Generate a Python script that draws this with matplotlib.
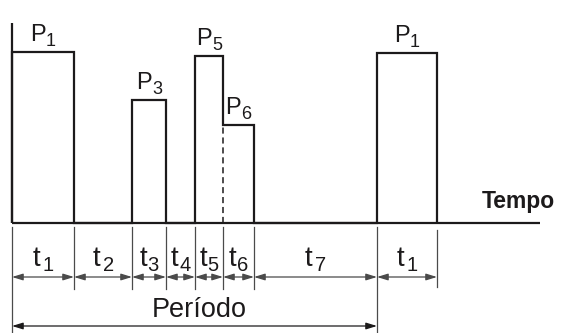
import numpy as np
import matplotlib
matplotlib.use('Agg')
import matplotlib.pyplot as plt

# ---- data (time in arbitrary units, power in arbitrary units) ----
durations = [62, 58, 34, 29, 28, 31, 123, 60]
t_labels = ['1', '2', '3', '4', '5', '6', '7', '1']
powers = [171, 0, 123, 0, 167, 98, 0, 170]
p_labels = ['1', '', '3', '', '5', '6', '', '1']
period_segments = 7
axis_label = 'Tempo'
period_label = 'Período'

plt.rcParams['font.family'] = ['Liberation Sans', 'DejaVu Sans']

edges = np.concatenate([[0], np.cumsum(durations)])

fig = plt.figure(figsize=(5.66, 3.33), dpi=100)
ax = fig.add_axes([0, 0, 1, 1])
ax.set_xlim(-12, 554)
ax.set_ylim(-110, 223)
ax.axis('off')

ink = '#1c1a1b'
dim = '#4a4a4a'


def sub_label(x, y, main, sub, main_fs, sub_fs, dy_pts, gap_pts, main_w, sub_w, drop):
    """Draw main letter with a subscript, group centred at (x, y) + dy."""
    total = main_w * main_fs + gap_pts + sub_w * sub_fs
    x0 = -total / 2
    ax.annotate(main, xy=(x, y), xytext=(x0, dy_pts), textcoords='offset points',
                ha='left', va='baseline', fontsize=main_fs, color=ink)
    ax.annotate(sub, xy=(x, y), xytext=(x0 + main_w * main_fs + gap_pts, dy_pts - drop),
                textcoords='offset points', ha='left', va='baseline',
                fontsize=sub_fs, color=ink)


# axes lines
ax.plot([0, 0], [0, 200], color=ink, lw=1.6, solid_capstyle='butt')
ax.plot([0, 528], [0, 0], color=ink, lw=1.6, solid_capstyle='butt')

# power profile
ax.stairs(powers, edges, baseline=0, color=ink, lw=1.6)

# dashed separators between adjacent non-zero levels
for i in range(len(powers) - 1):
    if powers[i] > 0 and powers[i + 1] > 0:
        ax.plot([edges[i + 1]] * 2, [0, min(powers[i], powers[i + 1])],
                color=ink, lw=1.1, ls=(0, (4, 2.5)))

# P labels
for i, p in enumerate(powers):
    if p_labels[i]:
        cx = (edges[i] + edges[i + 1]) / 2
        sub_label(cx, p, 'P', p_labels[i], 17, 13, 8.0, 0.0, 0.667, 0.556, 3.4)

# extension lines
n = len(edges)
for i, x in enumerate(edges):
    if i == 0 or i == period_segments:
        y0, y1 = -4, -110
    elif i == n - 1:
        y0, y1 = -7, -64
    else:
        y0, y1 = -4, -66
    ax.plot([x, x], [y0, y1], color=dim, lw=0.9)

# segment arrows and t labels
for i in range(len(durations)):
    ax.annotate('', xy=(edges[i + 1], -54), xytext=(edges[i], -54),
                arrowprops=dict(arrowstyle='<|-|>,head_length=0.65,head_width=0.2',
                                color=dim, lw=0.9, shrinkA=0, shrinkB=0,
                                mutation_scale=10))
    cx = (edges[i] + edges[i + 1]) / 2
    gap = 1.8 if durations[i] > 40 else 0.4
    sub_label(cx, 0, 't', t_labels[i], 20, 14.5, -31, gap, 0.278, 0.556, 3.6)

# period
ax.annotate('', xy=(edges[period_segments], -103), xytext=(edges[0], -103),
            arrowprops=dict(arrowstyle='<|-|>,head_length=0.65,head_width=0.2',
                            color=ink, lw=0.9, shrinkA=0, shrinkB=0,
                            mutation_scale=10))
ax.text((edges[0] + edges[period_segments]) / 2 + 5, -94, period_label,
        ha='center', va='baseline', fontsize=19.5, color=ink)

ax.text(470, 15, axis_label, ha='left', va='baseline', fontsize=16.5,
        fontweight='bold', color=ink)

fig.savefig('out.png', dpi=100)
